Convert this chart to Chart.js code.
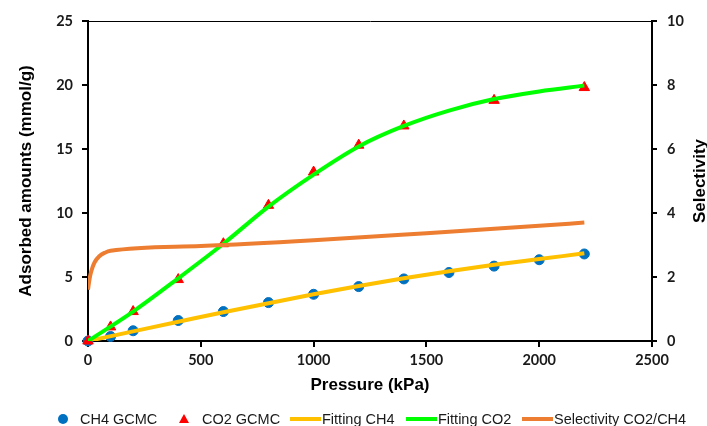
<!DOCTYPE html>
<html>
<head>
<meta charset="utf-8">
<script src="https://cdn.jsdelivr.net/npm/chart.js@4/dist/chart.umd.min.js"></script>
<style>
  html, body { margin: 0; padding: 0; background: #fff; }
  #wrap { width: 707px; height: 426px; }
</style>
</head>
<body>
<div id="wrap"><canvas id="chart"></canvas></div>
<script>
// GCMC points
const pressureCH4 = [0, 100, 200, 400, 600, 800, 1000, 1200, 1400, 1600, 1800, 2000, 2200];
const ch4Gcmc = [0, 0.35, 0.8, 1.6, 2.3, 3.0, 3.65, 4.25, 4.85, 5.35, 5.85, 6.35, 6.8];
const pressureCO2 = [0, 100, 200, 400, 600, 800, 1000, 1200, 1400, 1800, 2200];
const co2Gcmc = [0, 1.1, 2.3, 4.8, 7.6, 10.6, 13.2, 15.3, 16.8, 18.8, 19.8];

// fitted curves
const fitPressure = [0, 200, 400, 600, 800, 1000, 1200, 1400, 1600, 1800, 2000, 2200];
const fitCH4 = [0, 0.75, 1.5, 2.25, 2.95, 3.65, 4.3, 4.9, 5.45, 5.95, 6.4, 6.85];
const fitCO2 = [0, 2.3, 4.9, 7.6, 10.5, 13.0, 15.2, 16.8, 18.0, 18.9, 19.5, 19.95];

// selectivity (right axis)
const selPressure = [0, 5, 10, 20, 30, 50, 75, 100, 500, 1000, 1500, 2000, 2200];
const selectivity = [1.6, 1.85, 2.05, 2.3, 2.47, 2.65, 2.76, 2.82, 2.97, 3.15, 3.37, 3.6, 3.7];

const xTicks = [0, 500, 1000, 1500, 2000, 2500];

const pts = (xs, ys) => xs.map((x, i) => ({ x: x, y: ys[i] }));

const BLUE = '#0070C0', RED = '#FF0000', YELLOW = '#FFC000', GREEN = '#00FF00', ORANGE = '#ED7D31';
const TXT = '#1a1a1a';
const SANS = 'Liberation Sans, Arial, sans-serif';
const TICKFONT = { family: 'Lato, sans-serif', size: 14.5, weight: 'bold' };

// legend item left edges (Excel-like spacing)
const legendX = [57, 178, 290, 406, 522];

// custom legend + right-hand title that reads bottom to top
const extras = {
  id: 'extras',
  afterDraw(chart) {
    const ctx = chart.ctx;
    ctx.save();
    ctx.font = '14.5px ' + SANS;
    ctx.textBaseline = 'alphabetic';
    ctx.textAlign = 'left';
    chart.data.datasets.forEach((ds, i) => {
      const x = legendX[i], y = 419;
      ctx.fillStyle = ds.borderColor;
      let tx;
      if (ds.showLine) {
        ctx.fillRect(x, y - 2, 31, 4);
        tx = x + 32;
      } else if (ds.pointStyle === 'triangle') {
        ctx.beginPath();
        ctx.moveTo(x + 6, y - 5); ctx.lineTo(x + 11, y + 4); ctx.lineTo(x + 1, y + 4);
        ctx.closePath(); ctx.fill();
        tx = x + 24;
      } else {
        ctx.beginPath(); ctx.arc(x + 6, y, 5, 0, Math.PI * 2); ctx.fill();
        tx = x + 23;
      }
      ctx.fillStyle = TXT;
      ctx.fillText(ds.label, tx, 424);
    });
    const a = chart.chartArea;
    ctx.font = 'bold 17px ' + SANS;
    ctx.fillStyle = '#000';
    ctx.textAlign = 'center';
    ctx.translate(705, (a.top + a.bottom) / 2);
    ctx.rotate(-Math.PI / 2);
    ctx.fillText('Selectivity', 0, 0);
    ctx.restore();
  }
};

new Chart(document.getElementById('chart'), {
  type: 'scatter',
  data: {
    datasets: [
      { label: 'CH4 GCMC', data: pts(pressureCH4, ch4Gcmc), yAxisID: 'y', clip: false,
        pointStyle: 'circle', pointRadius: 5, backgroundColor: BLUE, borderColor: BLUE, order: 5 },
      { label: 'CO2 GCMC', data: pts(pressureCO2, co2Gcmc), yAxisID: 'y', clip: false,
        pointStyle: 'triangle', pointRadius: 6, backgroundColor: RED, borderColor: RED, order: 4 },
      { label: 'Fitting CH4', data: pts(fitPressure, fitCH4), yAxisID: 'y', showLine: true,
        borderColor: YELLOW, backgroundColor: YELLOW, borderWidth: 4, pointRadius: 0,
        cubicInterpolationMode: 'monotone', order: 3 },
      { label: 'Fitting CO2', data: pts(fitPressure, fitCO2), yAxisID: 'y', showLine: true,
        borderColor: GREEN, backgroundColor: GREEN, borderWidth: 4, pointRadius: 0,
        cubicInterpolationMode: 'monotone', order: 2 },
      { label: 'Selectivity CO2/CH4', data: pts(selPressure, selectivity), yAxisID: 'y2', showLine: true,
        borderColor: ORANGE, backgroundColor: ORANGE, borderWidth: 4, pointRadius: 0,
        cubicInterpolationMode: 'monotone', order: 1 }
    ]
  },
  options: {
    responsive: true,
    maintainAspectRatio: false,
    animation: false,
    layout: { padding: { left: 8, right: 0, top: 21, bottom: 30 } },
    plugins: {
      tooltip: { enabled: false },
      legend: { display: false }
    },
    scales: {
      x: {
        type: 'linear', min: 0, max: 2500,
        afterBuildTicks: axis => { axis.ticks = xTicks.map(v => ({ value: v })); },
        afterFit: axis => { axis.height = 55; },
        border: { color: '#000', width: 2 },
        grid: { drawOnChartArea: false, drawTicks: true, tickLength: 6, color: '#000', lineWidth: 2 },
        ticks: { color: TXT, padding: 5, font: TICKFONT, callback: v => String(v) },
        title: { display: true, text: 'Pressure (kPa)', color: '#000', padding: { top: 0, bottom: 0 },
          font: { family: SANS, size: 17, weight: 'bold' } }
      },
      xTop: {
        type: 'linear', position: 'top', min: 0, max: 2500,
        afterFit: axis => { axis.height = 0; },
        border: { color: '#000', width: 1 },
        grid: { display: false },
        ticks: { display: false }
      },
      y: {
        type: 'linear', position: 'left', min: 0, max: 25,
        afterFit: axis => { axis.width = 80; },
        ticks: { stepSize: 5, color: TXT, padding: 9, font: TICKFONT },
        border: { color: '#000', width: 2 },
        grid: { drawOnChartArea: false, drawTicks: true, tickLength: 6, color: '#000', lineWidth: 2 },
        title: { display: true, text: 'Adsorbed amounts (mmol/g)', color: '#000', padding: { top: 8, bottom: 0 },
          font: { family: SANS, size: 17, weight: 'bold' } }
      },
      y2: {
        type: 'linear', position: 'right', min: 0, max: 10,
        afterFit: axis => { axis.width = 55; },
        ticks: { stepSize: 2, color: TXT, padding: 10, font: TICKFONT },
        border: { color: '#000', width: 2 },
        grid: { drawOnChartArea: false, drawTicks: true, tickLength: 5, color: '#000', lineWidth: 2 },
        title: { display: false }
      }
    }
  },
  plugins: [extras]
});
</script>
</body>
</html>
